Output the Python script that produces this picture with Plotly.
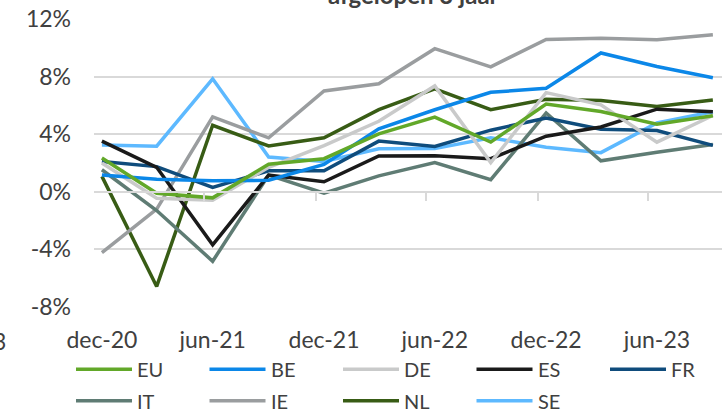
import plotly.graph_objects as go

# ---- data ----
dates = ["2020-12-15", "2021-03-15", "2021-06-15", "2021-09-15", "2021-12-15", "2022-03-15",
         "2022-06-15", "2022-09-15", "2022-12-15", "2023-03-15", "2023-06-15", "2023-09-15"]
tick_labels = ["dec-20", "jun-21", "dec-21", "jun-22", "dec-22", "jun-23"]
tick_dates = dates[0::2]
axis_tick_dates = ["2020-12-01", "2021-06-01", "2021-12-01", "2022-06-01", "2022-12-01", "2023-06-01"]

EU = [2.35, -0.1, -0.42, 1.91, 2.3, 4.02, 5.19, 3.45, 6.09, 5.58, 4.7, 5.28]
BE = [1.16, 0.88, 0.77, 0.8, 1.9, 4.37, 5.7, 6.91, 7.19, 9.64, 8.7, 7.92]
DE = [2.0, -0.45, -0.58, 1.7, 3.2, 4.9, 7.35, 2.03, 6.89, 6.04, 3.45, 5.3]
ES = [3.52, 1.7, -3.68, 1.16, 0.7, 2.49, 2.51, 2.3, 3.86, 4.5, 5.74, 5.56]
FR = [2.1, 1.75, 0.31, 1.46, 1.46, 3.52, 3.15, 4.28, 5.12, 4.35, 4.26, 3.22]
IT = [1.53, -1.3, -4.82, 1.16, -0.1, 1.11, 2.03, 0.84, 5.47, 2.15, 2.75, 3.29]
IE = [-4.23, -1.2, 5.2, 3.75, 7.0, 7.5, 9.94, 8.68, 10.58, 10.67, 10.56, 10.9]
NL = [1.07, -6.57, 4.62, 3.18, 3.75, 5.7, 7.14, 5.7, 6.43, 6.34, 5.93, 6.38]
SE = [3.25, 3.17, 7.85, 2.42, 2.1, 2.99, 3.0, 3.75, 3.1, 2.72, 4.78, 5.56]

series_names = ["EU", "BE", "DE", "ES", "FR", "IT", "IE", "NL", "SE"]
series_values = [EU, BE, DE, ES, FR, IT, IE, NL, SE]
colors = ["#62A829", "#0B87E8", "#C9CACA", "#1A1A1A", "#0F4C7C",
          "#5F7C74", "#9A9D9F", "#385C15", "#5DB9FF"]

y_ticks = [-8, -4, 0, 4, 8, 12]
y_labels = ["-8%", "-4%", "0%", "4%", "8%", "12%"]

# ---- layout geometry (pixels) ----
W, H = 726, 412
L, R, T, B = 94, 4, 15, 105
PW, PH = W - L - R, H - T - B

def px(x):
    return (x - L) / PW

def py(y):
    return (H - B - y) / PH

FONT = "Lato"
TXT = "#404040"
GRID = "#D9D9D9"

fig = go.Figure()

order = [8, 7, 6, 5, 4, 3, 2, 1, 0]
for i in order:
    fig.add_trace(go.Scatter(
        x=dates, y=series_values[i], mode="lines", name=series_names[i],
        line=dict(color=colors[i], width=3.5), showlegend=False,
        xaxis="x", yaxis="y"))

# empty trace so the zero-line axis is drawn
fig.add_trace(go.Scatter(x=[], y=[], xaxis="x2", yaxis="y", showlegend=False))

shapes = []
annotations = []
# custom legend
for k, name in enumerate(series_names):
    row, col = divmod(k, 5)
    x0 = 76 + 133.5 * col
    x1 = x0 + 56
    yy = 370 + 32 * row
    shapes.append(dict(type="line", xref="paper", yref="paper",
                       x0=px(x0), x1=px(x1), y0=py(yy), y1=py(yy),
                       line=dict(color=colors[k], width=3.5)))
    annotations.append(dict(xref="paper", yref="paper", x=px(x1 + 3), y=py(yy),
                            xanchor="left", yanchor="middle", showarrow=False,
                            text=name, font=dict(family=FONT, size=20, color=TXT)))

# clipped title
annotations.append(dict(xref="paper", yref="paper", x=px(413), y=py(-10),
                        xanchor="center", yanchor="middle", showarrow=False,
                        text="<b>afgelopen 3 jaar</b>",
                        font=dict(family=FONT, size=24, color=TXT)))
# clipped fragment on the left
annotations.append(dict(xref="paper", yref="paper", x=px(8), y=py(341),
                        xanchor="right", yanchor="middle", showarrow=False,
                        text="3", font=dict(family=FONT, size=23, color=TXT)))

x_range = ["2020-12-02", "2023-09-30"]

fig.update_layout(
    width=W, height=H,
    margin=dict(l=L, r=R, t=T, b=B, pad=0),
    paper_bgcolor="white", plot_bgcolor="white",
    font=dict(family=FONT, color=TXT),
    xaxis=dict(type="date", range=x_range, tickvals=tick_dates, ticktext=tick_labels,
               showgrid=False, zeroline=False, showline=False, ticks="",
               tickfont=dict(family=FONT, size=23, color=TXT), ticklabelstandoff=17),
    xaxis2=dict(type="date", range=x_range, overlaying="x", anchor="free",
                position=8 / 20, tickvals=axis_tick_dates, showticklabels=False,
                showgrid=False, zeroline=False, showline=True, linecolor=GRID,
                linewidth=1.5, ticks="outside", ticklen=8, tickwidth=1.5,
                tickcolor=GRID),
    yaxis=dict(range=[-8, 12], tickvals=y_ticks, ticktext=y_labels,
               showgrid=True, gridcolor=GRID, gridwidth=1.5, zeroline=False,
               showline=False, ticks="",
               tickfont=dict(family=FONT, size=23, color=TXT), ticklabelstandoff=22),
    shapes=shapes,
    annotations=annotations,
    showlegend=False,
)

fig.write_html("out.html",
               config={"displayModeBar": False},
               post_script="document.body.style.margin='0';document.body.style.overflow='hidden';")
